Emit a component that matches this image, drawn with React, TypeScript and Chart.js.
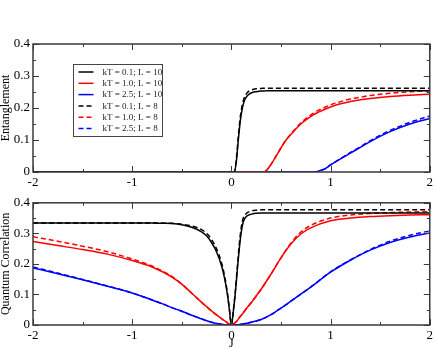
import React, { useEffect, useRef } from "react";
import { Chart, registerables } from "chart.js";
Chart.register(...registerables);

const FONT = "'Liberation Serif', 'Times New Roman', serif";
const AXIS_COLOR = "#3a3a3a";

const LEGEND_LABELS = [
  "kT = 0.1; L = 10",
  "kT = 1.0; L = 10",
  "kT = 2.5; L = 10",
  "kT = 0.1; L = 8",
  "kT = 1.0; L = 8",
  "kT = 2.5; L = 8",
];
const SERIES_COLORS = ["#000000", "#ff0000", "#0000ff", "#000000", "#ff0000", "#0000ff"];
const SERIES_DASHED = [false, false, false, true, true, true];

const X_MAJOR = [-2, -1, 0, 1, 2];
const X_MINOR = [-1.5, -0.5, 0.5, 1.5];
const Y_MAJOR = [0, 0.1, 0.2, 0.3, 0.4];
const Y_MINOR = [0.05, 0.15, 0.25, 0.35];

// ---- Top panel: Entanglement ----
const J_TOP = [-2, 0, 0.03, 0.05, 0.07, 0.09, 0.11, 0.13, 0.16, 0.2, 0.25, 0.3, 0.33, 0.36, 0.4, 0.45, 0.5, 0.55, 0.6, 0.7, 0.8, 0.83, 0.87, 0.9, 0.95, 1.0, 1.1, 1.2, 1.3, 1.4, 1.6, 1.8, 2.0];
const ENT_KT01_L10 = [0, 0, 0, 0.033, 0.1, 0.16, 0.198, 0.222, 0.238, 0.247, 0.251, 0.253, 0.253, 0.254, 0.254, 0.254, 0.254, 0.254, 0.254, 0.254, 0.254, 0.254, 0.254, 0.254, 0.254, 0.254, 0.254, 0.254, 0.254, 0.254, 0.254, 0.254, 0.254];
const ENT_KT10_L10 = [0, 0, 0, 0, 0, 0, 0, 0, 0, 0, 0, 0, 0, 0.007, 0.024, 0.049, 0.075, 0.099, 0.117, 0.15, 0.173, 0.179, 0.186, 0.19, 0.197, 0.203, 0.213, 0.22, 0.226, 0.23, 0.236, 0.24, 0.243];
const ENT_KT25_L10 = [0, 0, 0, 0, 0, 0, 0, 0, 0, 0, 0, 0, 0, 0, 0, 0, 0, 0, 0, 0, 0, 0, 0.002, 0.005, 0.011, 0.022, 0.041, 0.059, 0.077, 0.095, 0.126, 0.15, 0.167];
const ENT_KT01_L8 = [0, 0, 0, 0.04, 0.112, 0.172, 0.21, 0.232, 0.248, 0.256, 0.26, 0.261, 0.262, 0.262, 0.262, 0.262, 0.262, 0.262, 0.262, 0.262, 0.262, 0.262, 0.262, 0.262, 0.262, 0.262, 0.262, 0.262, 0.262, 0.262, 0.262, 0.262, 0.262];
const ENT_KT10_L8 = [0, 0, 0, 0, 0, 0, 0, 0, 0, 0, 0, 0, 0, 0.007, 0.024, 0.05, 0.076, 0.1, 0.119, 0.153, 0.178, 0.184, 0.192, 0.196, 0.203, 0.21, 0.22, 0.228, 0.234, 0.239, 0.246, 0.251, 0.254];
const ENT_KT25_L8 = [0, 0, 0, 0, 0, 0, 0, 0, 0, 0, 0, 0, 0, 0, 0, 0, 0, 0, 0, 0, 0, 0, 0.002, 0.005, 0.011, 0.022, 0.042, 0.061, 0.079, 0.098, 0.13, 0.155, 0.175];

// ---- Bottom panel: Quantum Correlation ----
const J_BOT = [-2, -1.75, -1.5, -1.25, -1, -0.8, -0.7, -0.6, -0.5, -0.4, -0.3, -0.25, -0.2, -0.15, -0.1, -0.07, -0.04, -0.02, 0, 0.02, 0.04, 0.06, 0.08, 0.1, 0.12, 0.15, 0.2, 0.25, 0.3, 0.4, 0.5, 0.6, 0.7, 0.8, 1.0, 1.2, 1.4, 1.6, 1.8, 2.0];
const QC_KT01_L10 = [0.334, 0.334, 0.334, 0.334, 0.334, 0.334, 0.333, 0.332, 0.328, 0.32, 0.305, 0.292, 0.27, 0.24, 0.195, 0.155, 0.1, 0.05, 0, 0.045, 0.105, 0.18, 0.25, 0.305, 0.338, 0.355, 0.363, 0.366, 0.367, 0.367, 0.367, 0.367, 0.367, 0.367, 0.367, 0.367, 0.367, 0.367, 0.367, 0.367];
const QC_KT10_L10 = [0.273, 0.26, 0.247, 0.232, 0.211, 0.19, 0.175, 0.157, 0.134, 0.104, 0.074, 0.06, 0.046, 0.033, 0.021, 0.014, 0.007, 0.003, 0, 0.003, 0.008, 0.015, 0.024, 0.032, 0.04, 0.053, 0.073, 0.095, 0.117, 0.167, 0.22, 0.265, 0.298, 0.318, 0.341, 0.35, 0.355, 0.358, 0.36, 0.361];
const QC_KT25_L10 = [0.187, 0.168, 0.148, 0.127, 0.105, 0.082, 0.07, 0.057, 0.045, 0.032, 0.02, 0.014, 0.009, 0.005, 0.0025, 0.0012, 0.0004, 0.0001, 0, 0.0001, 0.0004, 0.001, 0.0016, 0.0025, 0.0035, 0.0055, 0.009, 0.013, 0.018, 0.034, 0.055, 0.078, 0.101, 0.124, 0.173, 0.212, 0.245, 0.27, 0.288, 0.301];
const QC_KT01_L8 = [0.334, 0.334, 0.334, 0.334, 0.334, 0.334, 0.3335, 0.333, 0.33, 0.324, 0.312, 0.3, 0.28, 0.25, 0.205, 0.163, 0.105, 0.053, 0, 0.048, 0.112, 0.19, 0.265, 0.32, 0.35, 0.365, 0.373, 0.376, 0.377, 0.377, 0.377, 0.377, 0.377, 0.377, 0.377, 0.377, 0.377, 0.377, 0.377, 0.377];
const QC_KT10_L8 = [0.289, 0.274, 0.258, 0.24, 0.216, 0.193, 0.177, 0.159, 0.134, 0.104, 0.074, 0.06, 0.046, 0.033, 0.021, 0.014, 0.007, 0.003, 0, 0.003, 0.008, 0.015, 0.024, 0.032, 0.04, 0.053, 0.073, 0.095, 0.117, 0.167, 0.22, 0.268, 0.304, 0.326, 0.35, 0.36, 0.365, 0.368, 0.37, 0.371];
const QC_KT25_L8 = [0.19, 0.17, 0.149, 0.128, 0.105, 0.082, 0.07, 0.057, 0.045, 0.032, 0.02, 0.014, 0.009, 0.005, 0.0025, 0.0012, 0.0004, 0.0001, 0, 0.0001, 0.0004, 0.001, 0.0016, 0.0025, 0.0035, 0.0055, 0.009, 0.013, 0.018, 0.034, 0.055, 0.078, 0.101, 0.124, 0.174, 0.213, 0.247, 0.274, 0.294, 0.308];

const TOP_SERIES = [ENT_KT01_L10, ENT_KT10_L10, ENT_KT25_L10, ENT_KT01_L8, ENT_KT10_L8, ENT_KT25_L8];
const BOT_SERIES = [QC_KT01_L10, QC_KT10_L10, QC_KT25_L10, QC_KT01_L8, QC_KT10_L8, QC_KT25_L8];

function makeDatasets(xs: number[], series: number[][]) {
  return series.map((ys, i) => ({
    label: LEGEND_LABELS[i],
    data: xs.map((x, k) => ({ x, y: ys[k] })),
    borderColor: SERIES_COLORS[i],
    backgroundColor: SERIES_COLORS[i],
    borderWidth: 1.5,
    borderDash: SERIES_DASHED[i] ? [5, 3] : [],
    pointRadius: 0,
    cubicInterpolationMode: "monotone" as const,
    fill: false,
  }));
}

const framePlugin = {
  id: "frameTicks",
  afterDraw(chart: any) {
    const { ctx, chartArea: a, scales } = chart;
    const xs = scales.x;
    const ys = scales.y;
    ctx.save();
    ctx.strokeStyle = AXIS_COLOR;
    ctx.lineWidth = 1;
    ctx.beginPath();
    const tick = (len: number, xv: number[], yv: number[]) => {
      for (const v of xv) {
        const px = Math.round(xs.getPixelForValue(v)) + 0.5;
        ctx.moveTo(px, a.bottom);
        ctx.lineTo(px, a.bottom - len);
        ctx.moveTo(px, a.top);
        ctx.lineTo(px, a.top + len);
      }
      for (const v of yv) {
        const py = Math.round(ys.getPixelForValue(v)) + 0.5;
        ctx.moveTo(a.left, py);
        ctx.lineTo(a.left + len, py);
        ctx.moveTo(a.right, py);
        ctx.lineTo(a.right - len, py);
      }
    };
    tick(6, X_MAJOR, Y_MAJOR);
    tick(3, X_MINOR, Y_MINOR);
    ctx.stroke();
    ctx.lineWidth = 1.5;
    ctx.strokeRect(a.left, a.top, a.right - a.left, a.bottom - a.top);

    if (chart.options.plugins.frameTicks && chart.options.plugins.frameTicks.legend) {
      const lx = a.left + 40.5;
      const ly = a.top + 20.5;
      const w = 89;
      const h = 72;
      ctx.fillStyle = "#ffffff";
      ctx.fillRect(lx, ly, w, h);
      ctx.lineWidth = 1;
      ctx.strokeStyle = "#444";
      ctx.strokeRect(lx, ly, w, h);
      ctx.font = "9px " + FONT;
      ctx.textBaseline = "middle";
      ctx.textAlign = "left";
      chart.data.datasets.forEach((ds: any, i: number) => {
        const y = ly + 7.5 + i * 11.3;
        ctx.beginPath();
        ctx.strokeStyle = ds.borderColor;
        ctx.lineWidth = 1.5;
        ctx.setLineDash(ds.borderDash || []);
        ctx.moveTo(lx + 5, y);
        ctx.lineTo(lx + 20, y);
        ctx.stroke();
        ctx.setLineDash([]);
        ctx.fillStyle = "#222";
        ctx.fillText(ds.label, lx + 29, y + 0.5);
      });
    }
    ctx.restore();
  },
};

function makeOptions(yTitle: string, xTitle: string | null, xAxisH: number, padTop: number, legend: boolean) {
  return {
    responsive: false,
    animation: false as const,
    layout: { padding: { top: padTop, right: 5, left: 0, bottom: 0 } },
    plugins: {
      legend: { display: false },
      tooltip: { enabled: false },
      frameTicks: { legend },
    },
    scales: {
      x: {
        type: "linear" as const,
        min: -2,
        max: 2,
        grid: { display: false, drawTicks: false },
        border: { display: false },
        ticks: {
          stepSize: 1,
          padding: 3,
          color: "#000",
          font: { family: FONT, size: 13 },
          maxRotation: 0,
          callback: (v: any) => String(Math.round(Number(v) * 100) / 100),
        },
        title: xTitle
          ? { display: true, text: xTitle, color: "#000", font: { family: FONT, size: 12, lineHeight: 1 }, padding: { top: 0, bottom: 0 } }
          : { display: false },
        afterFit: (s: any) => {
          s.height = xAxisH;
        },
      },
      y: {
        type: "linear" as const,
        min: 0,
        max: 0.4,
        grid: { display: false, drawTicks: false },
        border: { display: false },
        ticks: {
          stepSize: 0.1,
          padding: 3,
          color: "#000",
          font: { family: FONT, size: 13 },
          callback: (v: any) => String(Math.round(Number(v) * 100) / 100),
        },
        title: { display: true, text: yTitle, color: "#000", font: { family: FONT, size: 12, lineHeight: 1 }, padding: { top: 0, bottom: 0 } },
        afterFit: (s: any) => {
          s.width = 33;
        },
      },
    },
  };
}

export default function App() {
  const topRef = useRef<HTMLCanvasElement>(null);
  const botRef = useRef<HTMLCanvasElement>(null);

  useEffect(() => {
    const c1 = new Chart(topRef.current as HTMLCanvasElement, {
      type: "line",
      data: { datasets: makeDatasets(J_TOP, TOP_SERIES) as any },
      options: makeOptions("Entanglement", null, 20, 44, true) as any,
      plugins: [framePlugin],
    });
    const c2 = new Chart(botRef.current as HTMLCanvasElement, {
      type: "line",
      data: { datasets: makeDatasets(J_BOT, BOT_SERIES) as any },
      options: makeOptions("Quantum Correlation", "J", 25, 6, false) as any,
      plugins: [framePlugin],
    });
    return () => {
      c1.destroy();
      c2.destroy();
    };
  }, []);

  return (
    <div style={{ position: "absolute", left: 0, top: 0, width: 436, height: 350, background: "#fff" }}>
      <canvas ref={topRef} width={436} height={192} style={{ position: "absolute", left: 0, top: 0, width: 436, height: 192 }} />
      <canvas ref={botRef} width={436} height={158} style={{ position: "absolute", left: 0, top: 192, width: 436, height: 158 }} />
    </div>
  );
}
